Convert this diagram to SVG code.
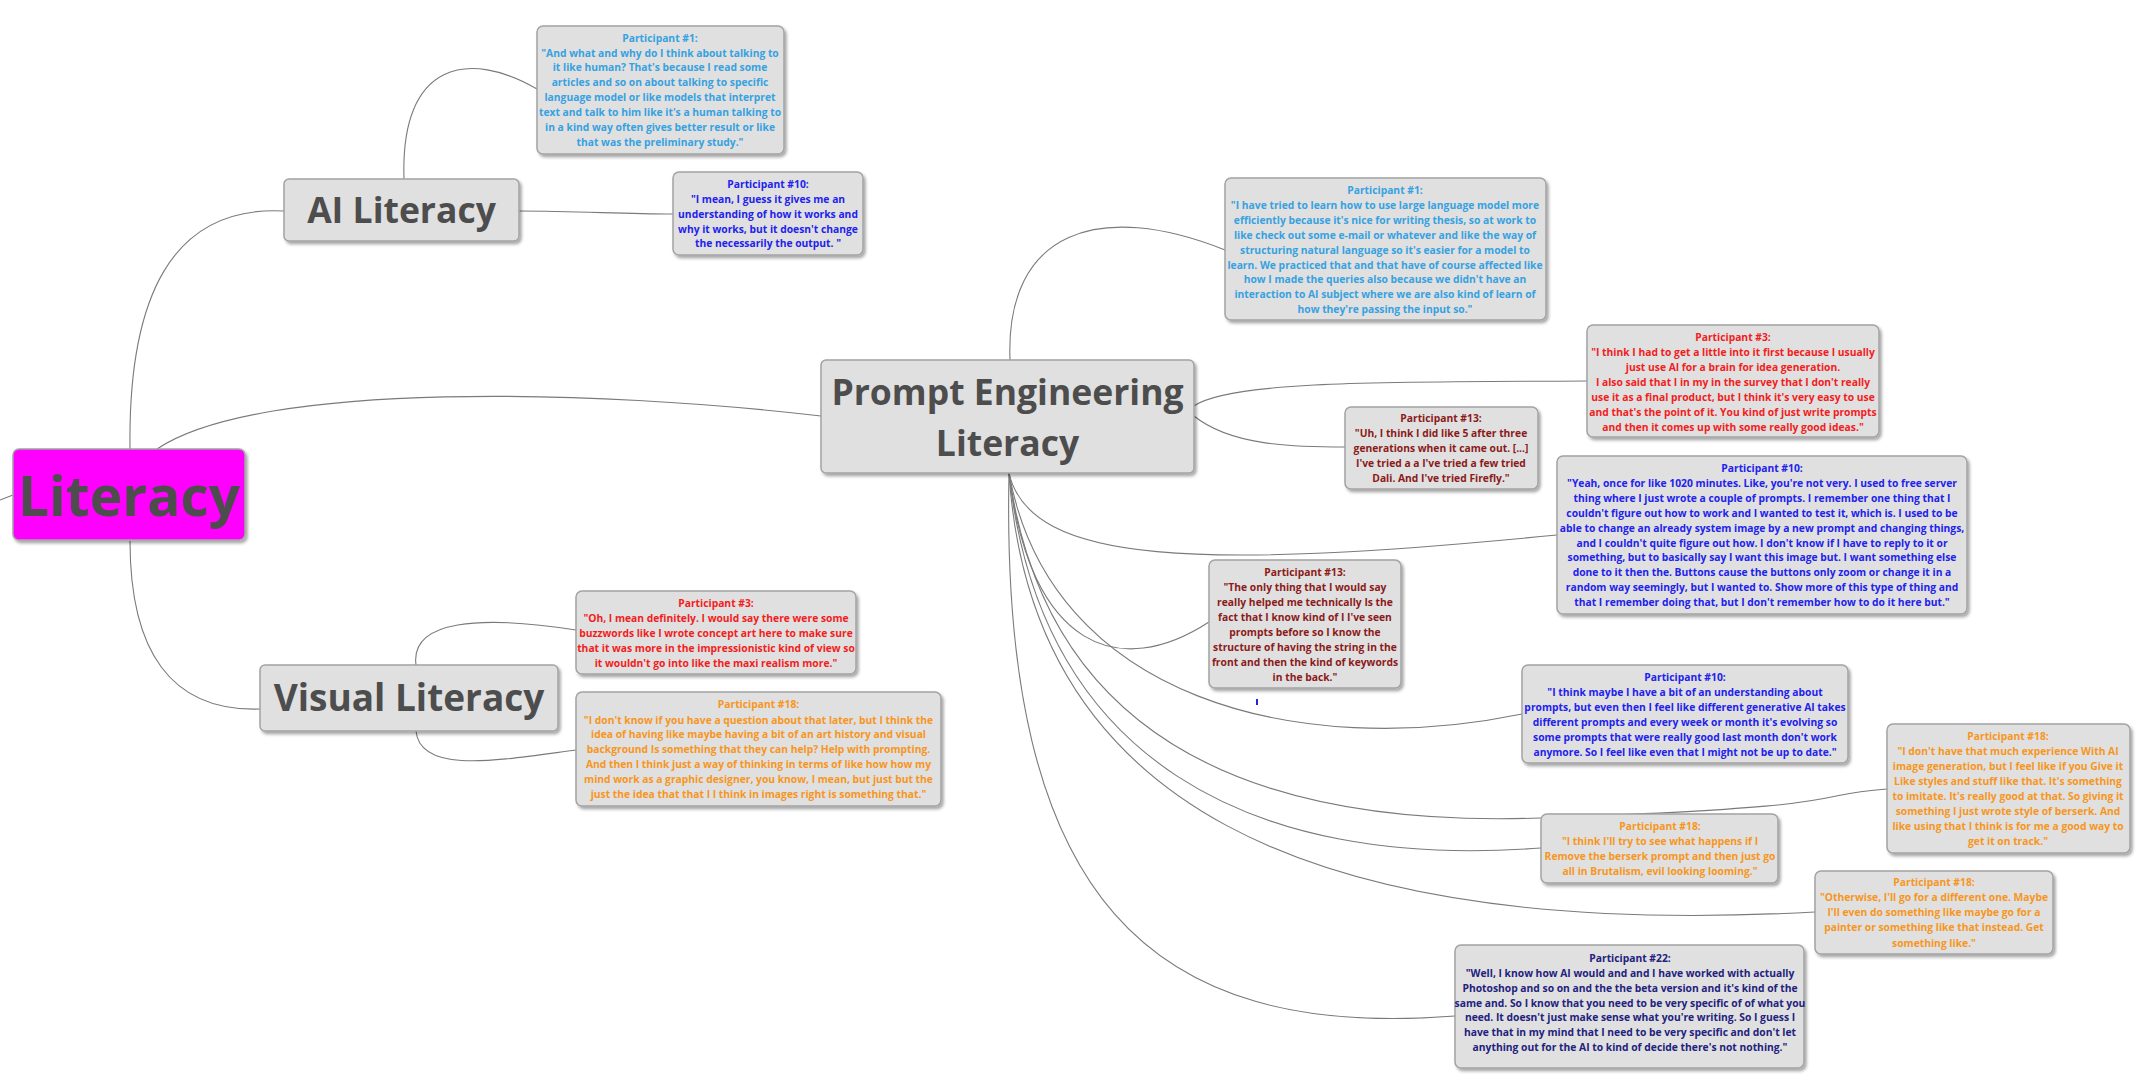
<svg xmlns="http://www.w3.org/2000/svg" width="2138" height="1075" viewBox="0 0 2138 1075">
<defs>
<filter id="sh" x="-10%" y="-10%" width="130%" height="130%">
<feDropShadow dx="2" dy="2.5" stdDeviation="1.5" flood-color="#000" flood-opacity="0.35"/>
</filter>
<style>
.box{fill:#e0e0e0;stroke:#a3a3a3;stroke-width:1.5;filter:url(#sh)}
.main{font-family:"Open Sans","Noto Sans",sans-serif;font-weight:700;fill:#4d4d4d;text-anchor:middle}
.q{font-family:"Open Sans","Noto Sans",sans-serif;font-weight:700;font-size:10.3px;text-anchor:middle}
.lb{fill:#36a2e0}.bl{fill:#2222ee}.rd{fill:#f21d1d}.mr{fill:#8b1a1a}.or{fill:#f7961e}.nv{fill:#22227e}
.c{fill:none;stroke:#7a7a7a;stroke-width:1.1}
</style>
</defs>
<rect width="2138" height="1075" fill="#fff"/>
<g id="connectors">
<path class="c" d="M0,500 L13,495"/>
<path class="c" d="M130,449 C128,300 170,205 284,211"/>
<path class="c" d="M130,541 C130,650 170,712 260,709"/>
<path class="c" d="M157,449 C260,380 600,390 821,416"/>
<path class="c" d="M404,179 C400,60 470,50 537,89"/>
<path class="c" d="M519,211 C580,211 620,214 673,214"/>
<path class="c" d="M416,665 C410,620 480,615 576,630"/>
<path class="c" d="M416,731 C420,775 500,760 576,750"/>
<path class="c" d="M1010,360 C1005,230 1100,200 1225,250"/>
<path class="c" d="M1194,406 C1230,380 1400,382 1587,381"/>
<path class="c" d="M1194,416 C1230,445 1290,447 1345,447"/>
<path class="c" d="M1009,473 C1030,565 1200,570 1557,535"/>
<path class="c" d="M1009,473 C1030,650 1120,680 1209,622"/>
<path class="c" d="M1009,473 C1050,700 1300,760 1522,714"/>
<path class="c" d="M1009,473 C1040,700 1200,830 1540,818 S1800,795 1887,789"/>
<path class="c" d="M1009,473 C1040,760 1250,870 1541,848"/>
<path class="c" d="M1009,473 C1030,800 1300,940 1815,912"/>
<path class="c" d="M1009,473 C1000,900 1150,1040 1455,1016"/>
<rect x="1256" y="699" width="2" height="6" fill="#2222ee"/>
</g>
<g id="literacy">
<rect class="box" x="13" y="449" width="232" height="91" rx="6" style="fill:#ff00ff"/>
<text class="main" x="129" y="516" font-size="55">Literacy</text>
</g>
<g id="ai-literacy">
<rect class="box" x="284" y="179" width="235" height="62" rx="5"/>
<text class="main" x="401.5" y="223" font-size="35.5">AI Literacy</text>
</g>
<g id="visual-literacy">
<rect class="box" x="260" y="665" width="298" height="66" rx="5"/>
<text class="main" x="409" y="711" font-size="37">Visual Literacy</text>
</g>
<g id="prompt-engineering-literacy">
<rect class="box" x="821" y="360" width="373" height="113" rx="5"/>
<text class="main" x="1007.5" y="405" font-size="35.5">Prompt Engineering</text>
<text class="main" x="1007.5" y="456" font-size="35.5">Literacy</text>
</g>
<g id="q-ai-p1">
<rect class="box" x="537" y="26" width="247" height="128" rx="6"/>
<text class="q lb" x="660"><tspan x="660" y="42">Participant #1:</tspan><tspan x="660" y="57">"And what and why do I think about talking to</tspan><tspan x="660" y="71">it like human? That's because I read some</tspan><tspan x="660" y="86">articles and so on about talking to specific</tspan><tspan x="660" y="101">language model or like models that interpret</tspan><tspan x="660" y="116">text and talk to him like it's a human talking to</tspan><tspan x="660" y="131">in a kind way often gives better result or like</tspan><tspan x="660" y="146">that was the preliminary study."</tspan></text>
</g>
<g id="q-ai-p10">
<rect class="box" x="673" y="172" width="190" height="83" rx="6"/>
<text class="q bl" x="768"><tspan x="768" y="188">Participant #10:</tspan><tspan x="768" y="203">"I mean, I guess it gives me an</tspan><tspan x="768" y="218">understanding of how it works and</tspan><tspan x="768" y="233">why it works, but it doesn't change</tspan><tspan x="768" y="247">the necessarily the output. "</tspan></text>
</g>
<g id="q-pe-p1">
<rect class="box" x="1225" y="178" width="321" height="142" rx="6"/>
<text class="q lb" x="1385"><tspan x="1385" y="194">Participant #1:</tspan><tspan x="1385" y="209">"I have tried to learn how to use large language model more</tspan><tspan x="1385" y="224">efficiently because it's nice for writing thesis, so at work to</tspan><tspan x="1385" y="239">like check out some e-mail or whatever and like the way of</tspan><tspan x="1385" y="254">structuring natural language so it's easier for a model to</tspan><tspan x="1385" y="269">learn. We practiced that and that have of course affected like</tspan><tspan x="1385" y="283">how I made the queries also because we didn't have an</tspan><tspan x="1385" y="298">interaction to AI subject where we are also kind of learn of</tspan><tspan x="1385" y="313">how they're passing the input so."</tspan></text>
</g>
<g id="q-pe-p3">
<rect class="box" x="1587" y="325" width="292" height="112" rx="6"/>
<text class="q rd" x="1733"><tspan x="1733" y="341">Participant #3:</tspan><tspan x="1733" y="356">"I think I had to get a little into it first because I usually</tspan><tspan x="1733" y="371">just use AI for a brain for idea generation.</tspan><tspan x="1733" y="386">I also said that I in my in the survey that I don't really</tspan><tspan x="1733" y="401">use it as a final product, but I think it's very easy to use</tspan><tspan x="1733" y="416">and that's the point of it. You kind of just write prompts</tspan><tspan x="1733" y="431">and then it comes up with some really good ideas."</tspan></text>
</g>
<g id="q-pe-p13a">
<rect class="box" x="1345" y="407" width="193" height="82" rx="6"/>
<text class="q mr" x="1441"><tspan x="1441" y="422">Participant #13:</tspan><tspan x="1441" y="437">"Uh, I think I did like 5 after three</tspan><tspan x="1441" y="452">generations when it came out. [...]</tspan><tspan x="1441" y="467">I've tried a a I've tried a few tried</tspan><tspan x="1441" y="482">Dali. And I've tried Firefly."</tspan></text>
</g>
<g id="q-pe-p10a">
<rect class="box" x="1557" y="456" width="410" height="158" rx="6"/>
<text class="q bl" x="1762"><tspan x="1762" y="472">Participant #10:</tspan><tspan x="1762" y="487">"Yeah, once for like 1020 minutes. Like, you're not very. I used to free server</tspan><tspan x="1762" y="502">thing where I just wrote a couple of prompts. I remember one thing that I</tspan><tspan x="1762" y="517">couldn't figure out how to work and I wanted to test it, which is. I used to be</tspan><tspan x="1762" y="532">able to change an already system image by a new prompt and changing things,</tspan><tspan x="1762" y="547">and I couldn't quite figure out how. I don't know if I have to reply to it or</tspan><tspan x="1762" y="561">something, but to basically say I want this image but. I want something else</tspan><tspan x="1762" y="576">done to it then the. Buttons cause the buttons only zoom or change it in a</tspan><tspan x="1762" y="591">random way seemingly, but I wanted to. Show more of this type of thing and</tspan><tspan x="1762" y="606">that I remember doing that, but I don't remember how to do it here but."</tspan></text>
</g>
<g id="q-pe-p13b">
<rect class="box" x="1209" y="560" width="192" height="128" rx="6"/>
<text class="q mr" x="1305"><tspan x="1305" y="576">Participant #13:</tspan><tspan x="1305" y="591">"The only thing that I would say</tspan><tspan x="1305" y="606">really helped me technically Is the</tspan><tspan x="1305" y="621">fact that I know kind of I I've seen</tspan><tspan x="1305" y="636">prompts before so I know the</tspan><tspan x="1305" y="651">structure of having the string in the</tspan><tspan x="1305" y="666">front and then the kind of keywords</tspan><tspan x="1305" y="681">in the back."</tspan></text>
</g>
<g id="q-vl-p3">
<rect class="box" x="576" y="591" width="280" height="83" rx="6"/>
<text class="q rd" x="716"><tspan x="716" y="607">Participant #3:</tspan><tspan x="716" y="622">"Oh, I mean definitely. I would say there were some</tspan><tspan x="716" y="637">buzzwords like I wrote concept art here to make sure</tspan><tspan x="716" y="652">that it was more in the impressionistic kind of view so</tspan><tspan x="716" y="667">it wouldn't go into like the maxi realism more."</tspan></text>
</g>
<g id="q-vl-p18">
<rect class="box" x="576" y="692" width="365" height="114" rx="6"/>
<text class="q or" x="758.5"><tspan x="758.5" y="708">Participant #18:</tspan><tspan x="758.5" y="724">"I don't know if you have a question about that later, but I think the</tspan><tspan x="758.5" y="738">idea of having like maybe having a bit of an art history and visual</tspan><tspan x="758.5" y="753">background Is something that they can help? Help with prompting.</tspan><tspan x="758.5" y="768">And then I think just a way of thinking in terms of like how how my</tspan><tspan x="758.5" y="783">mind work as a graphic designer, you know, I mean, but just but the</tspan><tspan x="758.5" y="798">just the idea that that I I think in images right is something that."</tspan></text>
</g>
<g id="q-pe-p10b">
<rect class="box" x="1522" y="665" width="326" height="98" rx="6"/>
<text class="q bl" x="1685"><tspan x="1685" y="681">Participant #10:</tspan><tspan x="1685" y="696">"I think maybe I have a bit of an understanding about</tspan><tspan x="1685" y="711">prompts, but even then I feel like different generative AI takes</tspan><tspan x="1685" y="726">different prompts and every week or month it's evolving so</tspan><tspan x="1685" y="741">some prompts that were really good last month don't work</tspan><tspan x="1685" y="756">anymore. So I feel like even that I might not be up to date."</tspan></text>
</g>
<g id="q-pe-p18a">
<rect class="box" x="1887" y="724" width="243" height="129" rx="6"/>
<text class="q or" x="2008"><tspan x="2008" y="740">Participant #18:</tspan><tspan x="2008" y="755">"I don't have that much experience With AI</tspan><tspan x="2008" y="770">image generation, but I feel like if you Give it</tspan><tspan x="2008" y="785">Like styles and stuff like that. It's something</tspan><tspan x="2008" y="800">to imitate. It's really good at that. So giving it</tspan><tspan x="2008" y="815">something I just wrote style of berserk. And</tspan><tspan x="2008" y="830">like using that I think is for me a good way to</tspan><tspan x="2008" y="845">get it on track."</tspan></text>
</g>
<g id="q-pe-p18b">
<rect class="box" x="1541" y="814" width="237" height="69" rx="6"/>
<text class="q or" x="1660"><tspan x="1660" y="830">Participant #18:</tspan><tspan x="1660" y="845">"I think I'll try to see what happens if I</tspan><tspan x="1660" y="860">Remove the berserk prompt and then just go</tspan><tspan x="1660" y="875">all in Brutalism, evil looking looming."</tspan></text>
</g>
<g id="q-pe-p18c">
<rect class="box" x="1815" y="871" width="238" height="83" rx="6"/>
<text class="q or" x="1934"><tspan x="1934" y="886">Participant #18:</tspan><tspan x="1934" y="901">"Otherwise, I'll go for a different one. Maybe</tspan><tspan x="1934" y="916">I'll even do something like maybe go for a</tspan><tspan x="1934" y="931">painter or something like that instead. Get</tspan><tspan x="1934" y="947">something like."</tspan></text>
</g>
<g id="q-pe-p22">
<rect class="box" x="1455" y="945" width="349" height="123" rx="6"/>
<text class="q nv" x="1630"><tspan x="1630" y="962">Participant #22:</tspan><tspan x="1630" y="977">"Well, I know how AI would and and I have worked with actually</tspan><tspan x="1630" y="992">Photoshop and so on and the the beta version and it's kind of the</tspan><tspan x="1630" y="1007">same and. So I know that you need to be very specific of of what you</tspan><tspan x="1630" y="1021">need. It doesn't just make sense what you're writing. So I guess I</tspan><tspan x="1630" y="1036">have that in my mind that I need to be very specific and don't let</tspan><tspan x="1630" y="1051">anything out for the AI to kind of decide there's not nothing."</tspan></text>
</g>
</svg>
